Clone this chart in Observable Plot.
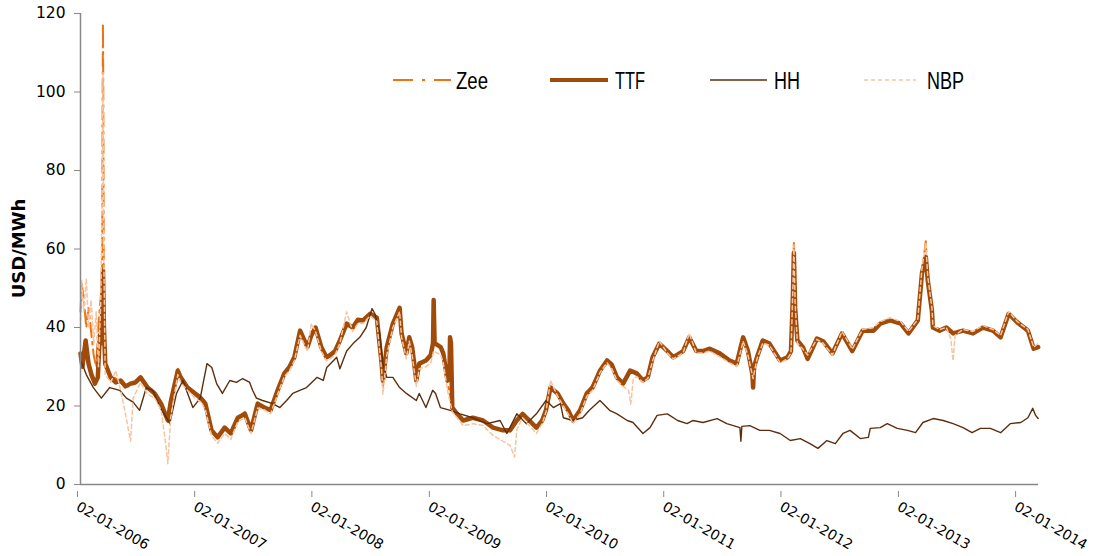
<!DOCTYPE html>
<html>
<head>
<meta charset="utf-8">
<script src="https://cdn.jsdelivr.net/npm/d3@7"></script>
<script src="https://cdn.jsdelivr.net/npm/@observablehq/plot@0.6"></script>
<style>
  html, body { margin: 0; padding: 0; background: #fff; }
  #chart { width: 1096px; height: 556px; }
</style>
</head>
<body>
<div id="chart"></div>
<script>
// ---------- data ----------
const xStart = "2006-01-02";
const xEnd = "2014-03-05";
const xTicks = ["2006-01-02","2007-01-02","2008-01-02","2009-01-02","2010-01-02","2011-01-02","2012-01-02","2013-01-02","2014-01-02"];
const yTicks = [0, 20, 40, 60, 80, 100, 120];
const seriesNames = ["Zee", "TTF", "HH", "NBP"];

const zee = [
["2006-01-02",44],["2006-01-06",51],["2006-01-12",47.6],["2006-01-20",40],["2006-01-27",45],["2006-02-04",39],["2006-02-12",33],["2006-02-20",30],["2006-02-27",41],["2006-03-06",47.6],["2006-03-10",51],["2006-03-12",100],["2006-03-13",117.5],["2006-03-14",100],["2006-03-16",45],["2006-03-20",30],["2006-04-06",27.5],["2006-04-22",27],["2006-05-07",26],["2006-05-22",25],["2006-06-07",25],["2006-06-22",26],["2006-07-08",27.5],["2006-07-30",25],["2006-08-21",23],["2006-09-10",20.5],["2006-10-01",16],["2006-10-10",21],["2006-11-01",29.5],["2006-11-10",27.5],["2006-12-01",25],["2006-12-25",23.5],
["2007-01-12",22.5],["2007-01-26",21],["2007-02-14",14],["2007-03-05",12],["2007-03-27",14.5],["2007-04-15",13],["2007-05-07",17],["2007-05-29",18.5],["2007-06-17",14],["2007-07-08",20.5],["2007-07-29",19.5],["2007-08-17",19],["2007-09-08",24],["2007-09-29",28.5],["2007-10-15",30],["2007-10-30",32.5],["2007-11-17",39.5],["2007-12-10",35],["2007-12-22",38],
["2008-01-04",40],["2008-01-22",35],["2008-02-07",32.5],["2008-02-19",33],["2008-03-05",34],["2008-03-20",36.5],["2008-04-10",41],["2008-04-29",40],["2008-05-15",42],["2008-05-31",42],["2008-06-22",43.5],["2008-07-13",42.5],["2008-07-28",31],["2008-08-01",25],["2008-08-13",35],["2008-09-01",41],["2008-09-22",45],["2008-09-28",38.5],["2008-10-13",33.5],["2008-10-22",37.5],["2008-10-31",35],["2008-11-13",26.5],["2008-11-22",31],["2008-12-13",31.5],["2008-12-28",33],
["2009-01-06",36],["2009-01-28",35],["2009-02-05",33],["2009-02-18",26],["2009-03-05",20],["2009-03-20",18],["2009-04-08",16.5],["2009-05-08",17],["2009-06-09",16.5],["2009-07-10",14.5],["2009-08-10",14],["2009-09-01",13.5],["2009-09-22",16.5],["2009-10-10",18],["2009-10-31",16.5],["2009-11-22",14.5],["2009-12-10",16.5],["2009-12-22",19],
["2010-01-05",25],["2010-01-27",23],["2010-02-14",20.5],["2010-03-01",19],["2010-03-16",16.5],["2010-04-07",19],["2010-04-28",23],["2010-05-16",25.5],["2010-06-08",29],["2010-06-30",31.5],["2010-07-15",30.5],["2010-07-31",27.5],["2010-08-19",25.5],["2010-09-10",29],["2010-10-01",28.5],["2010-10-20",26.5],["2010-11-04",27.5],["2010-11-19",32.5],["2010-12-10",36],
["2011-01-04",34],["2011-01-22",32.5],["2011-02-22",34],["2011-03-13",37.5],["2011-04-04",34],["2011-04-25",34],["2011-05-16",34.5],["2011-06-16",33.5],["2011-07-17",31.5],["2011-08-08",31],["2011-08-28",37.5],["2011-09-12",34],["2011-09-28",26],["2011-10-10",32.5],["2011-10-28",36.5],["2011-11-18",36],["2011-12-21",31.5],
["2012-01-13",32.5],["2012-01-24",34],["2012-01-30",50],["2012-02-02",61.5],["2012-02-06",46],["2012-02-13",36.5],["2012-03-01",35],["2012-03-16",32.5],["2012-04-14",37],["2012-05-03",36.5],["2012-06-01",33.5],["2012-07-01",38.5],["2012-08-02",34],["2012-09-03",39],["2012-10-07",39],["2012-10-28",41],["2012-11-28",42],["2012-12-31",41],
["2013-01-24",38.5],["2013-02-22",41.5],["2013-03-07",54],["2013-03-19",62],["2013-03-25",52.5],["2013-04-07",44.5],["2013-04-10",40],["2013-05-01",39],["2013-05-22",40],["2013-06-12",38.5],["2013-07-13",39],["2013-08-13",38.5],["2013-09-13",40],["2013-10-14",39],["2013-11-07",37.5],["2013-12-02",43.5],["2013-12-29",41.5],
["2014-01-31",39],["2014-02-18",34.5],["2014-03-04",35]
];

const ttf = [
["2006-01-02",33.4],["2006-01-08",30],["2006-01-18",36.7],["2006-01-27",30.8],["2006-02-05",28],["2006-02-16",25.7],["2006-02-25",27.3],["2006-03-03",38],["2006-03-08",36],["2006-03-11",45],["2006-03-13",54.5],["2006-03-16",40],["2006-03-20",30.8],["2006-04-06",27.3],["2006-04-22",26],["2006-05-07",26.5],["2006-05-22",25],["2006-06-07",25.7],["2006-06-22",26],["2006-07-08",27.3],["2006-07-30",24.7],["2006-08-21",23.2],["2006-09-10",20.6],["2006-10-01",16.3],["2006-10-10",21],["2006-11-01",29],["2006-11-10",27.3],["2006-12-01",24.7],["2006-12-25",23.2],
["2007-01-12",22],["2007-01-26",20.6],["2007-02-14",13.8],["2007-03-05",12],["2007-03-27",14.5],["2007-04-15",13],["2007-05-07",17],["2007-05-29",18],["2007-06-17",13.8],["2007-07-08",20.6],["2007-07-29",19.6],["2007-08-17",18.9],["2007-09-08",24],["2007-09-29",28.3],["2007-10-15",30],["2007-10-30",32.4],["2007-11-17",39.2],["2007-12-10",35],["2007-12-22",38],
["2008-01-04",40],["2008-01-22",35],["2008-02-07",32.4],["2008-02-19",33],["2008-03-05",34],["2008-03-20",36.7],["2008-04-10",41],["2008-04-29",40],["2008-05-15",42],["2008-05-31",41.8],["2008-06-22",43.5],["2008-07-13",42.5],["2008-07-28",30.8],["2008-08-01",26.5],["2008-08-13",35],["2008-09-01",41],["2008-09-22",45],["2008-09-28",38.5],["2008-10-13",33.4],["2008-10-22",37.5],["2008-10-31",35],["2008-11-13",26.5],["2008-11-22",30.8],["2008-12-13",31.6],["2008-12-28",33],
["2009-01-04",36],["2009-01-06",47],["2009-01-09",36],["2009-01-28",35],["2009-02-05",33.4],["2009-02-18",26.5],["2009-02-24",27],["2009-02-26",37.5],["2009-03-01",36],["2009-03-05",19.6],["2009-03-20",18],["2009-04-08",16.3],["2009-05-08",17],["2009-06-09",16.3],["2009-07-10",14.5],["2009-08-10",13.8],["2009-09-01",13.8],["2009-09-22",16.3],["2009-10-10",18],["2009-10-31",16.3],["2009-11-22",14.5],["2009-12-10",16.3],["2009-12-22",19],
["2010-01-05",24.7],["2010-01-27",23.2],["2010-02-14",20.6],["2010-03-01",18.9],["2010-03-16",16.3],["2010-04-07",18.9],["2010-04-28",23.2],["2010-05-16",24.7],["2010-06-08",29],["2010-06-30",31.6],["2010-07-15",30.5],["2010-07-31",27.3],["2010-08-19",25.7],["2010-09-10",29],["2010-10-01",28.3],["2010-10-20",26.5],["2010-11-04",27.3],["2010-11-19",32.4],["2010-12-10",35.9],
["2011-01-04",34],["2011-01-22",32.4],["2011-02-22",34],["2011-03-13",37.5],["2011-04-04",34],["2011-04-25",34],["2011-05-16",34.6],["2011-06-16",33.4],["2011-07-17",31.6],["2011-08-08",30.8],["2011-08-28",37.5],["2011-09-12",34],["2011-09-26",28],["2011-09-28",24.7],["2011-10-01",30],["2011-10-10",32.4],["2011-10-28",36.7],["2011-11-18",35.9],["2011-12-21",31.6],
["2012-01-13",32.4],["2012-01-24",34],["2012-01-30",48],["2012-02-02",59],["2012-02-06",45],["2012-02-13",36.7],["2012-03-01",35],["2012-03-16",32],["2012-04-14",37.2],["2012-05-03",36.5],["2012-06-01",33.4],["2012-07-01",38.5],["2012-08-02",34],["2012-09-03",39.2],["2012-10-07",39.2],["2012-10-28",41],["2012-11-28",41.8],["2012-12-31",41],
["2013-01-24",38.5],["2013-02-22",41.8],["2013-03-07",53.8],["2013-03-19",58],["2013-03-25",52],["2013-04-07",44.3],["2013-04-10",40],["2013-05-01",39.2],["2013-05-22",40],["2013-06-12",38.5],["2013-07-13",39.2],["2013-08-13",38.5],["2013-09-13",40],["2013-10-14",39.2],["2013-11-07",37.5],["2013-12-02",43.5],["2013-12-29",41.3],
["2014-01-31",39.2],["2014-02-18",34.6],["2014-03-04",35]
];

const hh = [
["2006-01-02",31.5],["2006-01-07",30.8],["2006-01-20",28],["2006-02-11",24.7],["2006-03-08",22],["2006-04-03",24.7],["2006-05-04",24],["2006-05-25",22],["2006-06-15",21],["2006-07-05",18.9],["2006-07-26",24.7],["2006-08-15",24],["2006-09-07",19.6],["2006-09-27",17],["2006-10-07",15.5],["2006-10-28",23.2],["2006-11-17",26.5],["2006-11-28",24],["2006-12-18",19.6],
["2007-01-10",22],["2007-01-31",30.8],["2007-02-15",29.8],["2007-03-02",25.7],["2007-03-20",23.2],["2007-04-12",26.5],["2007-05-03",26],["2007-05-22",27],["2007-06-13",26],["2007-06-22",24],["2007-07-04",22],["2007-07-23",21.4],["2007-08-24",20.6],["2007-09-15",19.6],["2007-10-06",21.4],["2007-10-25",23.2],["2007-11-16",24],["2007-12-07",24.7],
["2008-01-09",27.3],["2008-01-28",26.5],["2008-02-08",29.8],["2008-03-10",32.4],["2008-03-20",29.5],["2008-04-10",34],["2008-04-30",35.9],["2008-05-21",37.5],["2008-06-10",40],["2008-06-28",44.8],["2008-07-07",43.5],["2008-07-22",38.5],["2008-08-01",30.8],["2008-08-13",27.3],["2008-09-01",27.3],["2008-09-22",24.7],["2008-10-13",23.2],["2008-11-13",21.4],["2008-11-22",23.2],["2008-12-13",19.6],
["2009-01-03",24],["2009-01-12",23.2],["2009-01-27",19.6],["2009-02-27",18.9],["2009-03-29",18],["2009-05-08",17],["2009-06-21",15.5],["2009-08-01",16.3],["2009-08-22",13],["2009-09-22",18],["2009-10-22",15.5],["2009-11-22",18],["2009-12-22",21.4],
["2010-01-14",19.6],["2010-02-05",20.6],["2010-02-14",17],["2010-03-15",16.3],["2010-04-15",17],["2010-05-06",18.9],["2010-06-08",21.4],["2010-07-08",18.9],["2010-07-31",18],["2010-09-01",16.3],["2010-09-19",15.8],["2010-10-20",13],["2010-11-11",14.5],["2010-12-03",17.6],
["2011-01-04",18],["2011-02-05",16.3],["2011-03-06",15.5],["2011-03-24",16.3],["2011-04-25",15.8],["2011-06-08",16.8],["2011-07-08",15.5],["2011-08-18",14.5],["2011-08-21",11],["2011-08-24",14.8],["2011-09-18",15],["2011-10-19",13.8],["2011-11-18",13.8],["2011-12-21",13],
["2012-01-22",11.2],["2012-02-22",11.7],["2012-03-23",10.4],["2012-04-17",9.2],["2012-05-15",11.2],["2012-06-10",10.4],["2012-07-04",13],["2012-07-26",13.8],["2012-08-27",11.7],["2012-09-21",12],["2012-09-27",14.3],["2012-10-28",14.5],["2012-11-19",15.5],["2012-12-20",14.3],
["2013-01-21",13.8],["2013-02-15",13.2],["2013-03-10",15.8],["2013-04-11",16.8],["2013-05-12",16.3],["2013-06-12",15.5],["2013-07-13",14.5],["2013-08-10",13.2],["2013-09-05",14.3],["2013-10-06",14.3],["2013-11-07",13.2],["2013-12-07",15.5],
["2014-01-09",15.8],["2014-01-31",17],["2014-02-15",19.4],["2014-02-24",17.6],["2014-03-04",16.8]
];

const nbp = [
["2006-01-02",42],["2006-01-06",52],["2006-01-12",44],["2006-01-20",52.5],["2006-01-27",40],["2006-02-04",47],["2006-02-12",36],["2006-02-20",44],["2006-02-27",30],["2006-03-06",46],["2006-03-10",70],["2006-03-13",105],["2006-03-16",55],["2006-03-20",28],["2006-04-06",26],["2006-04-22",29],["2006-05-07",24],["2006-05-22",18],["2006-06-07",11],["2006-06-15",22],["2006-07-08",26],["2006-07-30",23],["2006-08-21",22],["2006-09-10",19],["2006-09-25",10],["2006-10-01",5.3],["2006-10-10",17],["2006-11-01",28],["2006-11-10",26],["2006-12-01",24],["2006-12-25",22],
["2007-01-12",21],["2007-01-26",19],["2007-02-14",12.5],["2007-03-05",10.5],["2007-03-27",13],["2007-04-15",11.5],["2007-05-07",16],["2007-05-29",17],["2007-06-17",13],["2007-07-08",19.5],["2007-07-29",19],["2007-08-17",18],["2007-09-08",23],["2007-09-29",27.5],["2007-10-15",29],["2007-10-30",31.5],["2007-11-17",38],["2007-12-10",34],["2007-12-22",41],
["2008-01-04",39],["2008-01-22",34],["2008-02-07",31.5],["2008-02-19",32],["2008-03-05",33],["2008-03-20",36],["2008-04-10",44],["2008-04-29",39],["2008-05-15",41],["2008-05-31",41],["2008-06-22",43],["2008-07-13",41.5],["2008-07-28",29],["2008-08-01",23],["2008-08-13",33],["2008-09-01",40],["2008-09-22",44],["2008-09-28",37.5],["2008-10-13",32],["2008-10-22",36.5],["2008-10-31",33],["2008-11-13",25],["2008-11-22",29.5],["2008-12-13",30],["2008-12-28",31],
["2009-01-06",34],["2009-01-28",33],["2009-02-05",31],["2009-02-18",24],["2009-03-05",18.5],["2009-03-20",17],["2009-04-08",15],["2009-05-08",15.5],["2009-06-09",15],["2009-07-10",12.5],["2009-08-10",11],["2009-09-01",10],["2009-09-15",7],["2009-09-22",14],["2009-10-10",17],["2009-10-31",15],["2009-11-22",13],["2009-12-10",15.5],["2009-12-22",18.5],
["2010-01-05",26.5],["2010-01-27",22.5],["2010-02-14",20],["2010-03-01",18],["2010-03-16",15.5],["2010-04-07",18],["2010-04-28",22.5],["2010-05-16",24],["2010-06-08",28.5],["2010-06-30",31],["2010-07-15",29.5],["2010-07-31",26.5],["2010-08-19",25],["2010-09-05",24],["2010-09-12",20.5],["2010-09-20",27],["2010-10-01",27.5],["2010-10-20",26],["2010-11-04",27],["2010-11-19",31.5],["2010-12-10",36.5],
["2011-01-04",33.5],["2011-01-22",32],["2011-02-22",33.5],["2011-03-13",38.5],["2011-04-04",33.5],["2011-04-25",33.5],["2011-05-16",34],["2011-06-16",32.5],["2011-07-17",31],["2011-08-08",30],["2011-08-28",36.5],["2011-09-12",33],["2011-09-28",27],["2011-10-10",32],["2011-10-28",36],["2011-11-18",35.5],["2011-12-21",31],
["2012-01-13",32],["2012-01-24",33.5],["2012-01-30",50],["2012-02-02",61],["2012-02-06",46],["2012-02-13",36],["2012-03-01",34.5],["2012-03-16",33],["2012-04-14",37],["2012-05-03",36],["2012-06-01",33],["2012-07-01",39],["2012-08-02",34.5],["2012-09-03",39.5],["2012-10-07",40],["2012-10-28",41.5],["2012-11-28",42.5],["2012-12-31",41.5],
["2013-01-24",39],["2013-02-22",42],["2013-03-07",55],["2013-03-19",61.5],["2013-03-25",53],["2013-04-07",45],["2013-04-10",40.5],["2013-05-01",39.5],["2013-05-22",40],["2013-06-05",37],["2013-06-12",31.5],["2013-06-18",38],["2013-07-13",39.5],["2013-08-13",39],["2013-09-13",40.5],["2013-10-14",39.5],["2013-11-07",38],["2013-12-02",44],["2013-12-29",41.5],
["2014-01-31",39.5],["2014-02-18",35],["2014-03-04",36]
];

// ---------- styles ----------
const colors = {Zee: "#eb7314", TTF: "#a04b0a", HH: "#5c2e0d", NBP: "#f9c39d"};
const widths = {Zee: 2, TTF: 4.5, HH: 1.4, NBP: 1.5};
const dashes = {Zee: "14,5,2.5,5", TTF: null, HH: null, NBP: "4,3"};

const parse = d3.utcParse("%Y-%m-%d");
const toRows = (arr, name) => arr.map(([d, v]) => ({date: parse(d), value: v, series: name}));
const dataBySeries = {Zee: toRows(zee, "Zee"), TTF: toRows(ttf, "TTF"), HH: toRows(hh, "HH"), NBP: toRows(nbp, "NBP")};

const lineMarks = seriesNames.map(name => Plot.lineY(dataBySeries[name], {
  x: "date", y: "value",
  stroke: colors[name], strokeWidth: widths[name],
  strokeDasharray: dashes[name] || undefined,
  strokeLinejoin: "round"
}));

const svg = Plot.plot({
  width: 1096, height: 556,
  marginLeft: 80, marginRight: 58, marginTop: 13, marginBottom: 72,
  style: {fontFamily: "DejaVu Sans", fontSize: "15px", background: "#fff", color: "#000", overflow: "visible"},
  x: {type: "utc", domain: [parse(xStart), parse(xEnd)]},
  y: {domain: [0, 120]},
  marks: [
    Plot.axisY({ticks: yTicks, tickSize: 6, tickPadding: 9, stroke: "#888", label: null, fontSize: 15.5}),
    Plot.axisX({ticks: xTicks.map(parse), tickFormat: d3.utcFormat("%d-%m-%Y"), tickSize: 6, tickPadding: 8, tickRotate: 30, stroke: "#888", label: null, fontSize: 14, dy: 7, dx: -3}),
    ...lineMarks,
    Plot.ruleY([0], {stroke: "#888", strokeWidth: 1.5}),
    Plot.ruleX([parse(xStart)], {stroke: "#888", strokeWidth: 1.5})
  ]
});

document.getElementById("chart").appendChild(svg);

// y-axis title
const s = d3.select(svg);
s.append("text")
  .attr("transform", "translate(25,248.5) rotate(-90)")
  .attr("text-anchor", "middle")
  .attr("font-family", "DejaVu Sans")
  .attr("font-weight", "bold")
  .attr("font-size", 18)
  .attr("fill", "#000")
  .text("USD/MWh");

// legend
const legendItems = [
  {name: "Zee", x1: 393, x2: 451, tx: 456, tl: 32, dash: "20,9,3,9"},
  {name: "TTF", x1: 550, x2: 608, tx: 615, tl: 30, dash: null},
  {name: "HH", x1: 710, x2: 767, tx: 774, tl: 26, dash: null},
  {name: "NBP", x1: 864, x2: 916, tx: 927, tl: 37, dash: "4,3"}
];
const lg = s.append("g").attr("text-anchor", "start");
legendItems.forEach(it => {
  const ln = lg.append("line")
    .attr("x1", it.x1).attr("x2", it.x2).attr("y1", 80).attr("y2", 80)
    .attr("stroke", colors[it.name]).attr("stroke-width", it.name === "TTF" ? 4 : widths[it.name]);
  if (it.dash) ln.attr("stroke-dasharray", it.dash);
  lg.append("text")
    .attr("x", it.tx).attr("y", 88.5)
    .attr("text-anchor", "start")
    .attr("font-family", "Liberation Sans")
    .attr("font-size", 23)
    .attr("textLength", it.tl)
    .attr("lengthAdjust", "spacingAndGlyphs")
    .attr("fill", "#000")
    .text(it.name);
});
</script>
</body>
</html>
